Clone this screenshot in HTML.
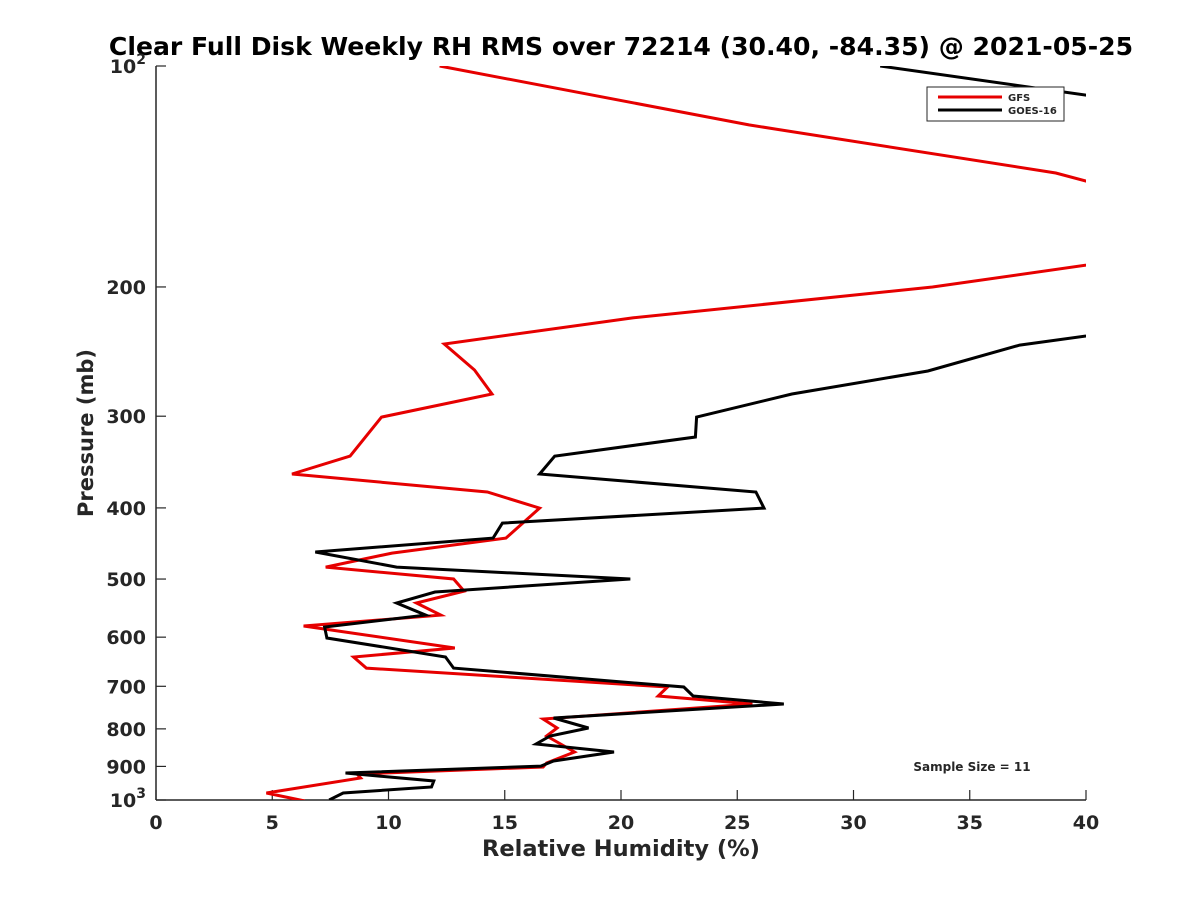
<!DOCTYPE html>
<html><head><meta charset="utf-8"><style>
body{margin:0;background:#fff;}
svg text{font-family:"DejaVu Sans","Liberation Sans",sans-serif;font-weight:bold;fill:#262626;}
</style></head><body>
<svg width="1200" height="900" viewBox="0 0 1200 900">
<rect width="1200" height="900" fill="#fff"/>
<defs><clipPath id="clip"><rect x="156" y="66" width="930" height="734"/></clipPath></defs>
<text x="621" y="55" font-size="25.1" text-anchor="middle" style="fill:#000">Clear Full Disk Weekly RH RMS over 72214 (30.40, -84.35) @ 2021-05-25</text>
<g id="axes"></g>
<g id="series" clip-path="url(#clip)"></g>
<text x="621" y="856" font-size="22.5" text-anchor="middle">Relative Humidity (%)</text>
<text transform="translate(93,433) rotate(-90)" font-size="21" text-anchor="middle">Pressure (mb)</text>
<g>
<rect x="927" y="87" width="137" height="34" fill="#fff" stroke="#262626" stroke-width="1"/>
<line x1="938" y1="97" x2="1002" y2="97" stroke="#e60000" stroke-width="3"/>
<text x="1008" y="101" font-size="10">GFS</text>
<line x1="938" y1="110" x2="1002" y2="110" stroke="#000" stroke-width="3"/>
<text x="1008" y="114" font-size="10">GOES-16</text>
</g>
<text x="972" y="771" font-size="12" text-anchor="middle">Sample Size = 11</text>
</svg>
<script>
const xTicks=[0,5,10,15,20,25,30,35,40];
const yTicks=[100,200,300,400,500,600,700,800,900,1000];
const yTickLabels=["10^2","200","300","400","500","600","700","800","900","10^3"];
const gfsRH=[12.2,25.5,38.7,41,41,33.4,20.5,12.4,13.7,14.45,9.7,8.35,5.85,14.25,16.5,15.05,10.15,7.3,12.8,13.25,11.2,12.25,6.35,12.85,8.5,9.05,22.0,21.6,25.65,16.65,17.25,16.8,18.0,16.8,16.65,8.65,8.8,4.75,6.4];
const gfsP=[100,120.3,139.9,146.3,184.8,200,220.4,239.2,259.5,279.8,300.8,340,359.6,380.5,400.2,439.7,460.9,481.6,500,519.2,539,559.8,579.4,620.8,638.6,661.1,701.5,721.6,740,775.6,797.9,818.2,860.3,890.5,901.6,921.7,933.2,978.3,1003];
const goesRH=[31.15,41,41,37.15,33.2,27.35,23.25,23.2,17.15,16.5,25.8,26.15,14.9,14.5,6.85,10.35,20.4,12.0,10.35,11.6,7.25,7.35,12.45,12.8,22.7,23.1,27.0,17.1,18.6,16.95,16.35,19.7,17.1,16.55,8.15,11.95,11.85,8.05,7.45];
const goesP=[100,110.7,230.9,240,260.3,279.8,300.8,320.2,340,359.6,380.5,400.2,419.5,439.7,459.4,481.6,500,520.8,539,559.8,581.2,601.6,638.6,661.1,701.5,721.6,740,773.3,797.9,818.2,838.9,860.3,884.9,899,918.8,942.2,960.1,978.3,1000];
const X0=156,X1=1086,Y0=66,Y1=800;
function sx(v){return X0+(v-0)/(40-0)*(X1-X0);}
function sy(p){return Y0+(Math.log10(p)-2)*(Y1-Y0);}
const NS="http://www.w3.org/2000/svg";
function mk(t,a,parent){const e=document.createElementNS(NS,t);for(const k in a)e.setAttribute(k,a[k]);parent.appendChild(e);return e;}
const axes=document.getElementById('axes');
let l=mk('line',{x1:X0,y1:Y1,x2:X1,y2:Y1,stroke:'#262626','stroke-width':1.5},axes);


l=mk('line',{x1:X0,y1:Y0,x2:X0,y2:Y1,stroke:'#262626','stroke-width':1.5},axes);


xTicks.forEach(v=>{
 const t=mk('line',{x1:sx(v),y1:Y1,x2:sx(v),y2:Y1-10,stroke:'#262626','stroke-width':1.2},axes);
 
 
 const tx=mk('text',{x:sx(v),y:Y1+29,'font-size':19,'text-anchor':'middle'},axes);
 tx.textContent=String(v);
 
 
});
yTicks.forEach((p,i)=>{
 const y=sy(p);
 const t=mk('line',{x1:X0,y1:y,x2:X0+10,y2:y,stroke:'#262626','stroke-width':1.2},axes);
 
 
 const lab=yTickLabels[i];
 const tx=mk('text',{x:X0-10,y:y+7,'font-size':19,'text-anchor':'end'},axes);
 
 
 if(lab.indexOf('^')>=0){
   const parts=lab.split('^');
   tx.textContent=parts[0];
   const s=mk('tspan',{dy:-9,'font-size':14},tx);
   s.textContent=parts[1];
 } else tx.textContent=lab;
});
const ser=document.getElementById('series');
function line(xs,ps,color,name){
 const d=xs.map((v,i)=>(i?'L':'M')+sx(v).toFixed(1)+','+sy(ps[i]).toFixed(1)).join(' ');
 const p=mk('path',{d:d,fill:'none',stroke:color,'stroke-width':3,'stroke-linejoin':'miter'},ser);
 
 
}
line(gfsRH,gfsP,'#e60000','gfs-line');
line(goesRH,goesP,'#000','goes16-line');
</script>
</body></html>
